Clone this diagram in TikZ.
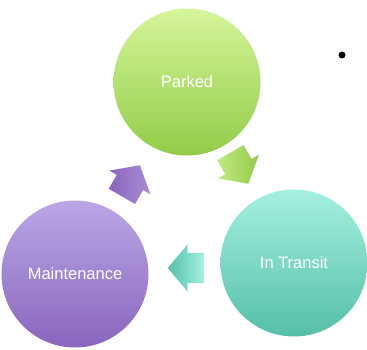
\documentclass[tikz,border=0pt]{standalone}
\usepackage{fontspec}
\setmainfont{Liberation Sans}
\usetikzlibrary{positioning,shapes.arrows}
\definecolor{grntop}{HTML}{D6F59A}
\definecolor{grnbot}{HTML}{92CC48}
\definecolor{teltop}{HTML}{A5F0E0}
\definecolor{telbot}{HTML}{55BFA8}
\definecolor{prptop}{HTML}{BBA6E6}
\definecolor{prpbot}{HTML}{8A66BE}
\begin{document}
\begin{tikzpicture}[x=1pt,y=1pt,
  state/.style={circle,minimum size=147pt,inner sep=0pt,text=white,
    font=\fontsize{16.5}{18}\selectfont},
  turn/.style={single arrow,minimum height=36pt,inner xsep=0pt,inner ysep=15pt,
    single arrow head extend=8.5pt,single arrow tip angle=100,anchor=tip}]
\useasboundingbox (0,0) rectangle (367,350);
\node[state,top color=grntop,bottom color=grnbot](parked) at (187,268){Parked};
\node[state,top color=teltop,bottom color=telbot](transit) at (294,87){In Transit};
\node[state,top color=prptop,bottom color=prpbot](maint) at (75,76){Maintenance};
% cycle arrows, placed by their tips
\node[turn,left color=grntop!70!grnbot,right color=grnbot,rotate=-60](a1) at (248.5,166){};
\node[turn,left color=telbot,right color=teltop,rotate=180](a2) at (167.5,82){};
\node[turn,left color=prpbot,right color=prptop!60!prpbot,rotate=60](a3) at (140,185){};
\node[circle,fill,inner sep=0pt,minimum size=7pt](dot) at (342,295){};
\end{tikzpicture}
\end{document}
